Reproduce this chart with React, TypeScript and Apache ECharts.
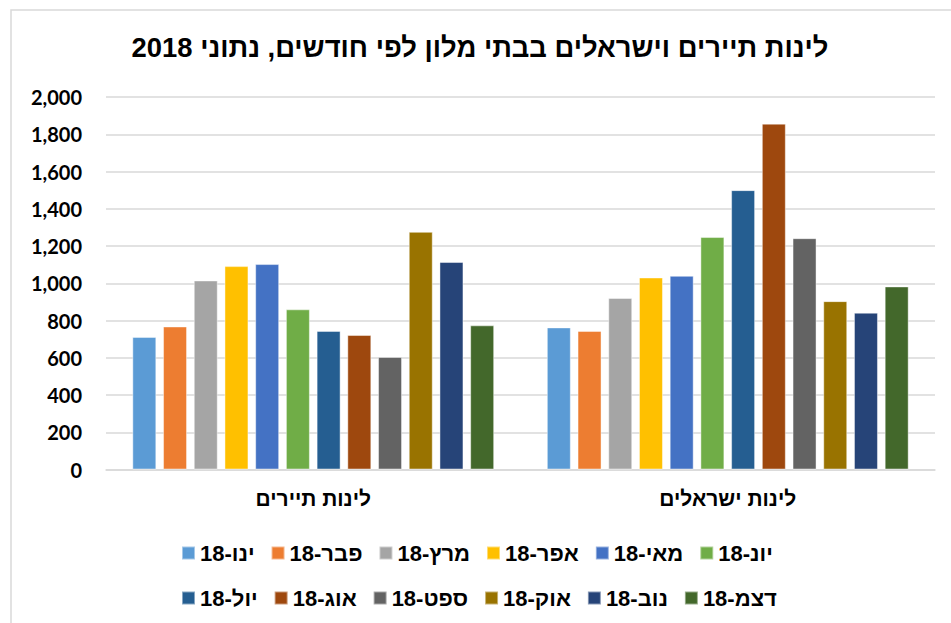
import React, { useEffect, useRef } from "react";
import * as echarts from "echarts";

const categories = ["לינות תיירים", "לינות ישראלים"];
const months = [
  "ינו-18", "פבר-18", "מרץ-18", "אפר-18", "מאי-18", "יונ-18",
  "יול-18", "אוג-18", "ספט-18", "אוק-18", "נוב-18", "דצמ-18",
];
// values per month: [tourists, israelis]
const jan = [712, 763];
const feb = [768, 744];
const mar = [1015, 921];
const apr = [1092, 1031];
const may = [1103, 1040];
const jun = [860, 1248];
const jul = [744, 1500];
const aug = [722, 1857];
const sep = [604, 1242];
const oct = [1276, 904];
const nov = [1114, 842];
const dec = [774, 983];
const monthValues = [jan, feb, mar, apr, may, jun, jul, aug, sep, oct, nov, dec];
const colors = [
  "#5B9BD5", "#ED7D31", "#A5A5A5", "#FFC000", "#4472C4", "#70AD47",
  "#255E91", "#9E480E", "#636363", "#997300", "#264478", "#43682B",
];
const yTicks = { min: 0, max: 2000, interval: 200 };
const title = "לינות תיירים וישראלים בבתי מלון לפי חודשים, נתוני 2018";

const heb = "'Liberation Sans', Arial, 'DejaVu Sans', sans-serif";

export default function App() {
  const ref = useRef<HTMLDivElement>(null);
  useEffect(() => {
    document.body.style.margin = "0";
    const chart = echarts.init(ref.current!, null, { renderer: "svg" });
    const legendCommon = {
      itemWidth: 13,
      itemHeight: 13,
      itemGap: 16,
      padding: 0,
      icon: "rect",
      textStyle: {
        fontFamily: heb,
        fontWeight: "bold",
        fontSize: 22,
        color: "#000",
        width: 80,
      },
    };
    chart.setOption({
      animation: false,
      color: colors,
      title: {
        text: title,
        left: 480,
        textAlign: "center",
        top: 30,
        padding: 0,
        textStyle: {
          fontFamily: heb,
          fontWeight: "bold",
          fontSize: 27.4,
          color: "#000",
          lineHeight: 34,
        },
      },
      graphic: [
        {
          type: "rect",
          shape: { x: 11, y: 10, width: 1000, height: 700 },
          style: { fill: "none", stroke: "#d9d9d9", lineWidth: 1.5 },
          silent: true,
        },
      ],
      legend: [
        { ...legendCommon, data: months.slice(0, 6), left: 181, top: 542 },
        { ...legendCommon, data: months.slice(6), left: 181, top: 587 },
      ],
      grid: { left: 106, right: 16, top: 97, bottom: 153.5 },
      xAxis: {
        type: "category",
        data: categories,
        axisLine: { lineStyle: { color: "#d9d9d9", width: 1.5 } },
        axisTick: { show: false },
        axisLabel: {
          margin: 18,
          fontFamily: heb,
          fontWeight: "bold",
          fontSize: 21,
          color: "#000",
        },
      },
      yAxis: {
        type: "value",
        min: yTicks.min,
        max: yTicks.max,
        interval: yTicks.interval,
        axisLine: { show: false },
        axisTick: { show: false },
        splitLine: { lineStyle: { color: "#d9d9d9", width: 1.5 } },
        axisLabel: {
          margin: 24,
          fontFamily: "Lato, 'Open Sans', sans-serif",
          fontWeight: "bold",
          fontSize: 20,
          color: "#000",
          formatter: (v: number) => v.toLocaleString("en-US"),
        },
      },
      series: months.map((m, i) => ({
        name: m,
        type: "bar",
        data: monthValues[i],
        barGap: "28%",
        barCategoryGap: "12.7%",
        itemStyle: {
          color: colors[i],
          borderColor: "rgba(255,255,255,0.45)",
          borderWidth: 1,
        },
      })),
    });
    return () => chart.dispose();
  }, []);
  return <div ref={ref} style={{ width: 951, height: 623 }} />;
}
